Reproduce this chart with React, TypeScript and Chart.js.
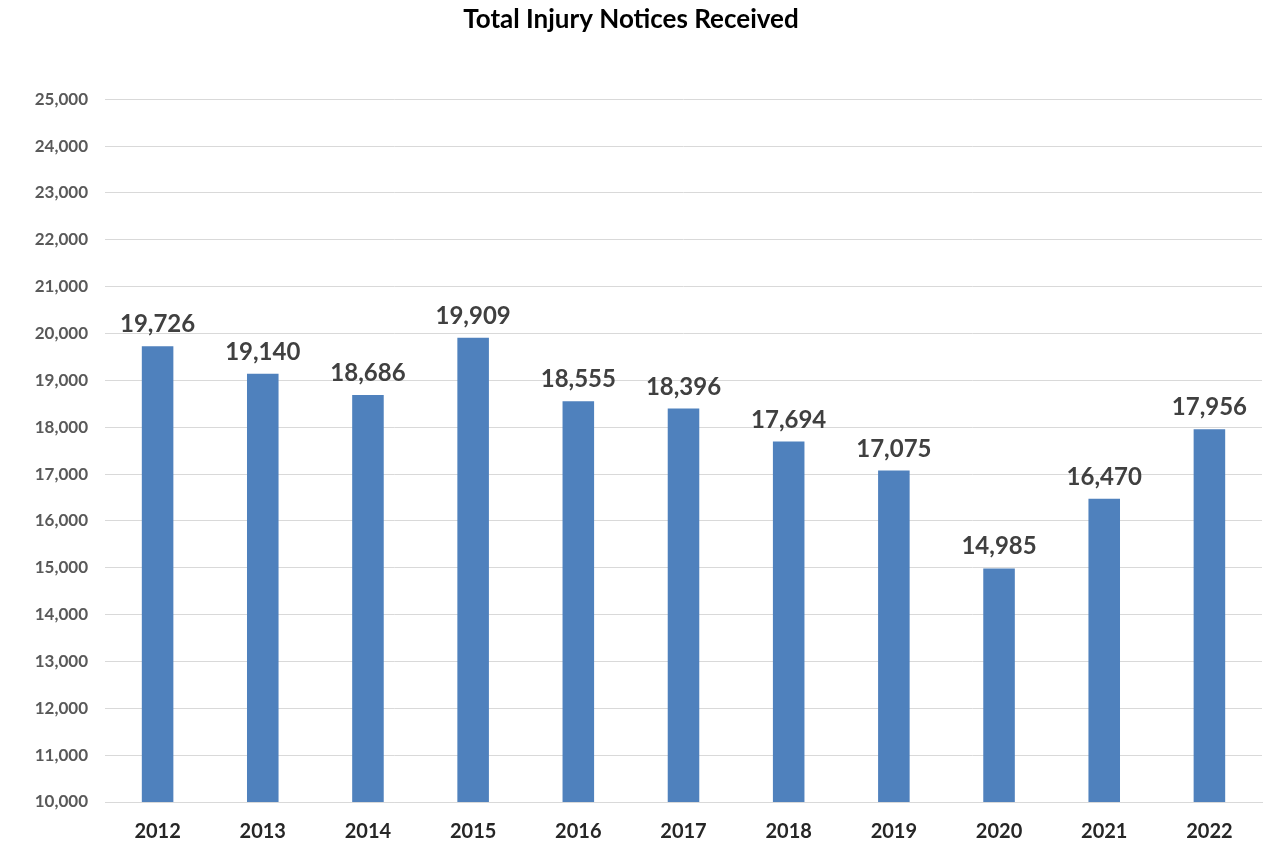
import React, { useEffect, useRef } from "react";
import { Chart, registerables } from "chart.js";

Chart.register(...registerables);

const years = ["2012", "2013", "2014", "2015", "2016", "2017", "2018", "2019", "2020", "2021", "2022"];
const notices = [19726, 19140, 18686, 19909, 18555, 18396, 17694, 17075, 14985, 16470, 17956];
const yMin = 10000;
const yMax = 25000;
const yStep = 1000;

const FONT = "Lato, 'Open Sans', sans-serif";

const labelPlugin = {
  id: "barLabels",
  afterDatasetsDraw(chart: any) {
    const ctx = chart.ctx;
    const meta = chart.getDatasetMeta(0);
    ctx.save();
    ctx.font = `bold 24px ${FONT}`;
    ctx.fillStyle = "#404040";
    ctx.textAlign = "center";
    ctx.textBaseline = "alphabetic";
    meta.data.forEach((bar: any, i: number) => {
      const v = chart.data.datasets[0].data[i] as number;
      ctx.fillText(v.toLocaleString("en-US"), bar.x, bar.y - 14);
    });
    ctx.restore();
  },
};

export default function App() {
  const ref = useRef<HTMLCanvasElement | null>(null);
  useEffect(() => {
    if (!ref.current) return;
    const chart = new Chart(ref.current, {
      type: "bar",
      data: {
        labels: years,
        datasets: [
          {
            data: notices,
            backgroundColor: "#4F81BD",
            barPercentage: 0.3,
            categoryPercentage: 1,
          },
        ],
      },
      options: {
        animation: false,
        responsive: false,
        maintainAspectRatio: false,
        layout: { padding: { left: 0, right: 9, top: 0, bottom: 0 } },
        plugins: {
          legend: { display: false },
          tooltip: { enabled: false },
          title: {
            display: true,
            text: "Total Injury Notices Received",
            color: "#000000",
            font: { family: FONT, size: 26, weight: "bold" },
            padding: { top: 4, bottom: 64 },
          },
        },
        scales: {
          x: {
            grid: { display: false, drawTicks: false },
            border: { display: true, color: "#d9d9d9", width: 1 },
            ticks: {
              color: "#262626",
              font: { family: FONT, size: 20, weight: "bold" },
              padding: 18,
            },
            afterFit: (scale: any) => {
              scale.height = 40;
            },
          },
          y: {
            min: yMin,
            max: yMax,
            grid: { color: "#d9d9d9", drawTicks: false },
            border: { display: false },
            ticks: {
              stepSize: yStep,
              color: "#595959",
              font: { family: FONT, size: 17, weight: "bold" },
              padding: 17,
              callback: (v: any) => Number(v).toLocaleString("en-US"),
            },
            afterFit: (scale: any) => {
              scale.width = 105;
            },
          },
        },
      },
      plugins: [labelPlugin],
    });
    return () => chart.destroy();
  }, []);
  return (
    <div style={{ position: "fixed", left: 0, top: 0, width: 1271, height: 842, background: "#fff" }}>
      <canvas ref={ref} width={1271} height={842} style={{ width: 1271, height: 842 }} />
    </div>
  );
}
